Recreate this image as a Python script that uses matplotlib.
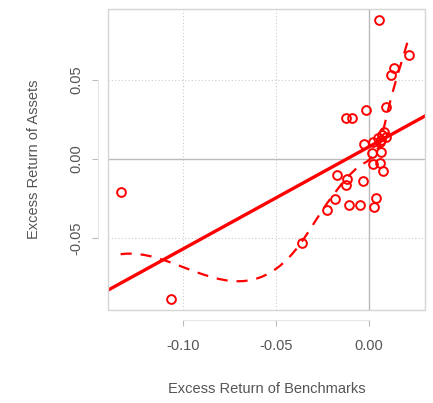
import numpy as np
import matplotlib
matplotlib.use("Agg")
import matplotlib.pyplot as plt
from matplotlib.patches import Rectangle

plt.rcParams['font.family'] = ['Liberation Sans', 'DejaVu Sans']

# Monthly excess returns: benchmark (x) and asset (y)
bench_excess = [0.0056, 0.0213, 0.0136, 0.0118, 0.0091, -0.0016, -0.0124, -0.0090,
                0.0050, 0.0070, 0.0080, 0.0060, 0.0090, 0.0065,
                -0.0027, 0.0020, 0.0018, 0.0063, 0.0023, 0.0059, 0.0077,
                -0.0174, -0.0120, -0.0122, -0.0030, -0.0183, -0.0228, -0.0108,
                -0.0050, 0.0036, 0.0027, -0.0358, -0.1335, -0.1066]
asset_excess = [0.0878, 0.0660, 0.0576, 0.0534, 0.0329, 0.0308, 0.0262, 0.0257,
                0.0130, 0.0150, 0.0170, 0.0110, 0.0140, 0.0120,
                0.0093, 0.0108, 0.0038, 0.0044, -0.0030, -0.0025, -0.0078,
                -0.0103, -0.0124, -0.0165, -0.0137, -0.0251, -0.0325, -0.0293,
                -0.0293, -0.0247, -0.0306, -0.0534, -0.0207, -0.0886]

x_ticks = [-0.10, -0.05, 0.00]
x_tick_labels = ['-0.10', '-0.05', '0.00']
y_ticks = [-0.05, 0.00, 0.05]
y_tick_labels = ['-0.05', '0.00', '0.05']

x = np.asarray(bench_excess, dtype=float)
y = np.asarray(asset_excess, dtype=float)


class LoessSmooth:
    """Local linear loess on a 1-D kd-tree with cubic Hermite interpolation
    between vertices and biweight robustness iterations."""

    def __init__(self, x, y, span=2/3, cell=0.2, iterations=4):
        self.x, self.y = x, y
        n = len(x)
        self.q = int(np.floor(n * span))
        fc = int(np.floor(n * span * cell))
        xs = np.sort(x)
        lo, hi = xs[0], xs[-1]
        mu = 0.005 * max(hi - lo, 1e-30)
        verts = {lo - mu, hi + mu}

        def split(l, u):
            if u - l + 1 <= fc:
                return
            m = (l + u) // 2
            v = xs[m]
            if v in verts:
                return
            verts.add(v)
            split(l, m)
            split(m + 1, u)

        split(0, n - 1)
        self.verts = np.array(sorted(verts))

        rob = np.ones(n)
        for j in range(iterations):
            self._fit_vertices(rob)
            if j < iterations - 1:
                res = y - self.predict(x)
                r = np.abs(res)
                cmad = 6 * np.median(r)
                u = r / cmad
                rob = np.where(u < 0.001, 1.0,
                               np.where(u > 0.999, 0.0, (1 - u ** 2) ** 2))

    def _local(self, x0, rob):
        d = np.abs(self.x - x0)
        h = np.sort(d)[self.q - 1]
        w = np.clip(1 - (d / h) ** 3, 0, None) ** 3 * rob
        X = np.column_stack([np.ones_like(self.x), self.x - x0])
        sw = np.sqrt(w)
        beta = np.linalg.lstsq(X * sw[:, None], self.y * sw, rcond=None)[0]
        return beta[0], beta[1]

    def _fit_vertices(self, rob):
        fits = np.array([self._local(v, rob) for v in self.verts])
        self.vval, self.vslope = fits[:, 0], fits[:, 1]

    def predict(self, xn):
        xn = np.atleast_1d(xn)
        k = np.clip(np.searchsorted(self.verts, xn, side='right') - 1,
                    0, len(self.verts) - 2)
        v0, v1 = self.verts[k], self.verts[k + 1]
        w = v1 - v0
        t = (xn - v0) / w
        phi0 = (1 - t) ** 2 * (1 + 2 * t)
        phi1 = t ** 2 * (3 - 2 * t)
        psi0 = t * (1 - t) ** 2
        psi1 = -t ** 2 * (1 - t)
        return (phi0 * self.vval[k] + phi1 * self.vval[k + 1]
                + (psi0 * self.vslope[k] + psi1 * self.vslope[k + 1]) * w)


fig = plt.figure(figsize=(4.33, 4.03), dpi=100)
ax = fig.add_axes([0.2494, 0.2308, 0.7321, 0.7469])

# axis lines offset outward from the panel box (set before tick styling,
# since moving a spine rebuilds the ticks)
for side in ('top', 'right'):
    ax.spines[side].set_visible(False)
ax.spines['bottom'].set_position(('outward', 7))
ax.spines['left'].set_position(('outward', 7))

grid_col = '#cccccc'
for t in x_ticks:
    ax.axvline(t, color=grid_col, lw=0.8, ls=(0, (1, 2)), zorder=0)
for t in y_ticks:
    ax.axhline(t, color=grid_col, lw=0.8, ls=(0, (1, 2)), zorder=0)
ax.axvline(0, color='#bbbbbb', lw=1.0, zorder=1)
ax.axhline(0, color='#bbbbbb', lw=1.0, zorder=1)

red = '#ff0000'
ax.plot(x, y, ls='none', marker='o', ms=6.3, mfc='none', mec=red, mew=1.4, zorder=3)

# least-squares line across the full panel
slope, intercept = np.polyfit(x, y, 1)
xl = np.array([-0.15, 0.04])
ax.plot(xl, intercept + slope * xl, color=red, lw=2.4, zorder=4)

smooth = LoessSmooth(x, y)
xs = np.linspace(x.min(), x.max(), 50)
ax.plot(xs, smooth.predict(xs), color=red, lw=1.6, ls=(0, (5, 4)), zorder=4)

ax.set_xlim(-0.1403, 0.0301)
ax.set_ylim(-0.0956, 0.095)
ax.set_xticks(x_ticks)
ax.set_xticklabels(x_tick_labels)
ax.set_yticks(y_ticks)
ax.set_yticklabels(y_tick_labels, rotation=90, va='center')

ax.add_patch(Rectangle((0, 0), 1, 1, transform=ax.transAxes, fill=False,
                       ec='#d5d5d5', lw=1.0, zorder=5, clip_on=False))
ax.spines['bottom'].set_bounds(x_ticks[0], x_ticks[-1])
ax.spines['left'].set_bounds(y_ticks[0], y_ticks[-1])
for side in ('bottom', 'left'):
    ax.spines[side].set_color('#e6e6e6')
    ax.spines[side].set_linewidth(0.8)

txt = '#555555'
ax.tick_params(colors='#bbbbbb', labelcolor=txt, labelsize=10.5, length=4, width=0.8)
ax.tick_params(axis='x', pad=10)
ax.tick_params(axis='y', pad=7, labelrotation=90)

ax.set_xlabel('Excess Return of Benchmarks', color=txt, fontsize=10.5, labelpad=21)
ax.set_ylabel('Excess Return of Assets', color=txt, fontsize=10.5, labelpad=20)

fig.savefig('out.png', dpi=100)
